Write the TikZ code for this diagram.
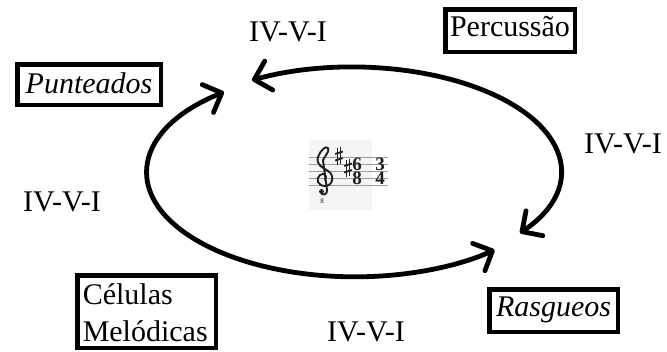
\documentclass[tikz,border=0pt]{standalone}
\usepackage{fontspec}
\setmainfont{Liberation Serif}
\usetikzlibrary{arrows.meta}
\tikzset{
  bigfont/.style={font=\fontsize{30}{37}\selectfont},
  labeltext/.style={bigfont, inner sep=0pt, anchor=base},
  boxnode/.style={bigfont, draw, line width=4.5pt, inner sep=0pt,
    text height=20pt, text depth=7.6pt},
  cyclearc/.style={line width=4.8pt, line cap=round,
    {Straight Barb[length=15pt, width=30pt, round]}-{Straight Barb[length=15pt, width=30pt, round]}},
  staffline/.style={draw=black!38, line width=0.8pt},
  musicink/.style={draw=black!88, line width=1.9pt, line cap=round, line join=round},
  sharpbar/.style={draw=black!88, line width=1.8pt},
  sharpstem/.style={draw=black!88, line width=0.7pt},
  tsdigit/.style={font=\fontsize{19}{14}\bfseries\selectfont, inner sep=0pt, align=center,
    anchor=base, text=black!88}
}
\begin{document}
\begin{tikzpicture}[x=1pt, y=-1pt]
\useasboundingbox (0,0) rectangle (667,351);

% boxes
\node[boxnode, minimum width=129.5pt, minimum height=42.5pt] (perc) at (510,30.5) {Percussão};
\node[boxnode, minimum width=143.5pt, minimum height=40.5pt, text depth=2.4pt] (punt) at (89,84.5) {\itshape Punteados};
\node[boxnode, minimum width=128.5pt, minimum height=42.5pt] (rasg) at (553.5,310.5) {\itshape Rasgueos};
\node[bigfont, draw, line width=4.5pt, inner xsep=5.5pt, inner ysep=0pt, text width=127.5pt,
      minimum height=72.5pt, align=left] (cel) at (146.5,311.5)
      {\rule{0pt}{24pt}Células\\Melódicas};

% IV-V-I labels
\node[labeltext] (ltop) at (288,41) {IV-V-I};
\node[labeltext] (lright) at (623,153) {IV-V-I};
\node[labeltext] (lleft) at (62,211) {IV-V-I};
\node[labeltext] (lbottom) at (366,341) {IV-V-I};

% cycle arrows (both on an ellipse)
\coordinate (topstart) at (520,233);
\coordinate (botstart) at (224,92);
\draw[cyclearc] (topstart) arc[start angle=36.5, end angle=-119, x radius=208, y radius=104];
\draw[cyclearc] (botstart) arc[start angle=-129, end angle=-312.2, x radius=208, y radius=104];

% music snippet
\fill[black!4] (309,140) rectangle (372,210);
\foreach \yy in {157,164,171,178,185}
  \draw[staffline] (309,\yy) -- (388,\yy);
% treble clef
\draw[musicink] (325,180)
  .. controls (328,176) and (324,172) .. (320,175)
  .. controls (315,179) and (318,186) .. (325,186)
  .. controls (333,186) and (335,175) .. (328,171)
  .. controls (322,167) and (316,165) .. (318,157)
  .. controls (320,151) and (326,145) .. (328,148)
  .. controls (330,151) and (325,156) .. (323,160)
  -- (327,190)
  .. controls (328,195) and (321,196) .. (321,192);
\fill[black!88] (321.5,191.5) circle (2.4);
\node[font=\fontsize{7}{7}\selectfont, inner sep=0pt, text=black!88] (octave) at (322,201) {8};
% sharps
\foreach \cx/\cy in {339/156, 348/168}{
  \draw[sharpstem] (\cx-1.6,\cy-8) -- (\cx-1.6,\cy+9);
  \draw[sharpstem] (\cx+1.6,\cy-9) -- (\cx+1.6,\cy+8);
  \draw[sharpbar] (\cx-3.8,\cy-2) -- (\cx+3.8,\cy-4.5);
  \draw[sharpbar] (\cx-3.8,\cy+4.5) -- (\cx+3.8,\cy+2);
}
% time signatures
\node[tsdigit, anchor=north] (sixeight) at (357,157.5) {6\\8};
\node[tsdigit, anchor=north] (threefour) at (380,157.5) {3\\4};
\end{tikzpicture}
\end{document}
